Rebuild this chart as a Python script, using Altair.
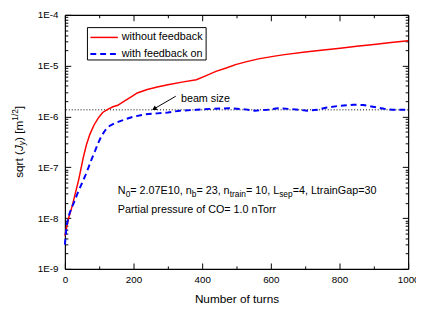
import altair as alt
import pandas as pd

# ---------------- data ----------------
turns_red = [0, 5, 10, 21, 30, 40, 54, 63, 73, 85, 97, 110, 126, 140, 154, 173, 192, 211,
             240, 269, 300, 345, 383, 410, 440, 470, 497, 530, 564, 611, 640, 700, 760,
             802, 850, 900, 950, 1000]
val_red = [4.5e-9, 6.5e-9, 9.5e-9, 1.7e-8, 3.0e-8, 5.6e-8, 1.6e-7, 2.8e-7, 4.5e-7, 6.8e-7,
           9.3e-7, 1.2e-6, 1.4e-6, 1.55e-6, 1.66e-6, 2.0e-6, 2.4e-6, 2.9e-6, 3.4e-6,
           3.8e-6, 4.2e-6, 4.8e-6, 5.3e-6, 6.3e-6, 7.7e-6, 9.0e-6, 1.05e-5, 1.2e-5,
           1.36e-5, 1.54e-5, 1.65e-5, 1.85e-5, 2.05e-5, 2.2e-5, 2.4e-5, 2.6e-5, 2.85e-5,
           3.1e-5]

turns_blue = [0, 5, 11, 18, 26, 38, 50, 60, 69, 78, 88, 97, 107, 118, 130, 145, 159, 180,
              202, 235, 269, 300, 335, 383, 430, 477, 526, 554, 590, 620, 660, 706, 735,
              763, 800, 840, 870, 897, 930, 954, 1000]
val_blue = [3.0e-9, 7e-9, 1.1e-8, 1.5e-8, 2.0e-8, 3.2e-8, 4.9e-8, 7e-8, 1.0e-7, 1.45e-7,
            2.1e-7, 3.0e-7, 4.2e-7, 5.4e-7, 6.5e-7, 7.4e-7, 8.0e-7, 9.0e-7, 1.0e-6,
            1.1e-6, 1.15e-6, 1.2e-6, 1.3e-6, 1.35e-6, 1.42e-6, 1.45e-6, 1.38e-6, 1.3e-6,
            1.35e-6, 1.45e-6, 1.4e-6, 1.3e-6, 1.35e-6, 1.5e-6, 1.62e-6, 1.7e-6, 1.68e-6,
            1.55e-6, 1.42e-6, 1.35e-6, 1.35e-6]

beam_size = [1.35e-6]
series_names = ["without feedback", "with feedback on"]
y_major = [1e-9, 1e-8, 1e-7, 1e-6, 1e-5, 1e-4]
y_minor = [m * 10.0 ** e for e in range(-9, -4) for m in range(2, 10)]
x_major = [0, 200, 400, 600, 800, 1000]
x_minor = [100, 300, 500, 700, 900]

# ---------------- layout ----------------
W, H = 350, 259
FONT = "Liberation Sans"

red_df = pd.DataFrame({"turns": turns_red, "val": val_red})
blue_df = pd.DataFrame({"turns": turns_blue, "val": val_blue})
xs = alt.Scale(domain=[0, 1000], nice=False, zero=False)
ys = alt.Scale(type="log", domain=[1e-9, 1e-4], nice=False)


def axis_layer(xaxis, yaxis):
    return alt.Chart(red_df).mark_line(opacity=0).encode(
        x=alt.X("turns:Q", scale=xs, axis=xaxis),
        y=alt.Y("val:Q", scale=ys, axis=yaxis),
    )


no_lab = dict(labels=False, title=None, grid=False)

# labelled axes (bottom / left)
ax_main = axis_layer(
    alt.Axis(orient="bottom", values=x_major, format="d", title="Number of turns",
             titleFont=FONT, titleFontSize=12, titleFontWeight="normal", titleColor="black",
             titlePadding=9, labelPadding=6, tickSize=0, domain=True,
             labelFlush=False, labelOverlap=False),
    alt.Axis(orient="left", values=y_major, title=None,
             labelExpr="'1E' + round(log(datum.value) / LN10)", tickSize=0,
             labelPadding=7, domain=True, labelFlush=False, labelOverlap=False),
)
# inward ticks on bottom and left
ax_in1 = axis_layer(
    alt.Axis(orient="top", offset=-H, values=x_major, tickSize=6, domain=False, **no_lab),
    alt.Axis(orient="right", offset=-W, values=y_major, tickSize=6, domain=False, **no_lab),
)
ax_in2 = axis_layer(
    alt.Axis(orient="top", offset=-H, values=x_minor, tickSize=3, domain=False, **no_lab),
    alt.Axis(orient="right", offset=-W, values=y_minor, tickSize=3, domain=False, **no_lab),
)
# mirrored top and right frame with inward ticks
ax_in3 = axis_layer(
    alt.Axis(orient="bottom", offset=-H, values=x_major, tickSize=6, domain=True, **no_lab),
    alt.Axis(orient="left", offset=-W, values=y_major, tickSize=6, domain=True, **no_lab),
)
ax_in4 = axis_layer(
    alt.Axis(orient="bottom", offset=-H, values=x_minor, tickSize=3, domain=False, **no_lab),
    alt.Axis(orient="left", offset=-W, values=y_minor, tickSize=3, domain=False, **no_lab),
)

beam = alt.Chart(pd.DataFrame({"v": beam_size})).mark_rule(
    color="black", strokeDash=[1, 2], strokeWidth=1
).encode(y=alt.Y("v:Q", scale=ys, axis=None))

red = alt.Chart(red_df).mark_line(color="#ff0000", strokeWidth=1.5).encode(
    x=alt.X("turns:Q", scale=xs, axis=None), y=alt.Y("val:Q", scale=ys, axis=None))
blue = alt.Chart(blue_df).mark_line(color="#0000ff", strokeWidth=2, strokeDash=[6, 4]).encode(
    x=alt.X("turns:Q", scale=xs, axis=None), y=alt.Y("val:Q", scale=ys, axis=None))

# arrow + "beam size"
arrow_df = pd.DataFrame({"x": [323], "y": [2.5e-6], "x2": [262], "y2": [1.44e-6]})
arrow = alt.Chart(arrow_df).mark_rule(color="black", strokeWidth=1).encode(
    x=alt.X("x:Q", scale=xs, axis=None), y=alt.Y("y:Q", scale=ys, axis=None),
    x2="x2:Q", y2="y2:Q")
head = alt.Chart(arrow_df).mark_point(shape="triangle", filled=True, size=28, angle=240,
                                     color="black", opacity=1).encode(
    x=alt.X("x2:Q", scale=xs, axis=None), y=alt.Y("y2:Q", scale=ys, axis=None))


def txt(s, px, py, size=11, style="normal", angle=0, align="left", baseline="middle"):
    return alt.Chart(pd.DataFrame({"t": [s]})).mark_text(
        align=align, baseline=baseline, font=FONT, fontSize=size, fontStyle=style,
        angle=angle, color="black").encode(x=alt.value(px), y=alt.value(py), text="t:N")


beam_txt = alt.Chart(pd.DataFrame({"t": ["beam size"], "x": [338], "y": [2.2e-6]})).mark_text(
    align="left", baseline="middle", font=FONT, fontSize=11, color="black").encode(
    x=alt.X("x:Q", scale=xs, axis=None), y=alt.Y("y:Q", scale=ys, axis=None), text="t:N")

# legend (manual box)
leg_box = alt.Chart(pd.DataFrame({"a": [0]})).mark_rect(
    fill="white", stroke="black", strokeWidth=1).encode(
    x=alt.value(23), x2=alt.value(144), y=alt.value(13), y2=alt.value(46))
leg_red = alt.Chart(pd.DataFrame({"a": [0]})).mark_rule(color="#ff0000", strokeWidth=1.5).encode(
    x=alt.value(26), x2=alt.value(54), y=alt.value(23))
leg_blue = alt.Chart(pd.DataFrame({"a": [0]})).mark_rule(
    color="#0000ff", strokeWidth=2, strokeDash=[6, 4]).encode(
    x=alt.value(26), x2=alt.value(54), y=alt.value(40))
leg_t1 = txt(series_names[0], 58, 23)
leg_t2 = txt(series_names[1], 58, 40)

# ---- rich text helper: segments (text, size, shift, style) ----
W_ARIAL = {' ': 278, ',': 278, '.': 278, '=': 584, '(': 333, ')': 333, '[': 278, ']': 278,
           '/': 278, '-': 333, 'A': 667, 'C': 722, 'E': 667, 'G': 778, 'J': 500, 'L': 556,
           'N': 722, 'O': 778, 'P': 667, 'T': 611, 'a': 556, 'b': 556, 'c': 500, 'd': 556,
           'e': 556, 'f': 278, 'g': 556, 'h': 556, 'i': 222, 'k': 500, 'l': 222, 'm': 833,
           'n': 556, 'o': 556, 'p': 556, 'q': 556, 'r': 333, 's': 500, 't': 278, 'u': 556,
           'w': 722, 'y': 500, 'z': 500}


def tw(s, size):
    return sum(W_ARIAL.get(c, 556) for c in s) * size / 1000.0


def rich_h(segs, x0, y0):
    layers, x = [], x0
    for s, size, dy, style in segs:
        lead = len(s) - len(s.lstrip(" "))
        layers.append(txt(s.strip(" "), x + tw(" " * lead, size), y0 + dy, size=size,
                          style=style))
        x += tw(s, size)
    return layers


def rich_v(segs, x0, y0):
    # rotated 270 deg: text runs upward; "down" in text frame = +x on screen
    layers, y = [], y0
    for s, size, dx, style in segs:
        lead = len(s) - len(s.lstrip(" "))
        layers.append(txt(s.strip(" "), x0 + dx, y - tw(" " * lead, size), size=size,
                          style=style, angle=270))
        y -= tw(s, size)
    return layers


SUB = 8.5
line1 = [("N", 11, 0, "normal"), ("0", SUB, 3, "normal"), ("= 2.07E10, n", 11, 0, "normal"),
         ("b", SUB, 3, "normal"), ("= 23, n", 11, 0, "normal"), ("train", SUB, 3, "normal"),
         ("= 10, L", 11, 0, "normal"), ("sep", SUB, 3, "normal"),
         ("=4, LtrainGap=30", 11, 0, "normal")]
ann1 = rich_h(line1, 54, 180)
ann2 = [txt("Partial pressure of CO= 1.0 nTorr", 54, 199)]

ytitle = [("sqrt (", 12, 0, "normal"), ("J", 12, 0, "italic"), ("y", SUB, 3, "italic"),
          (")", 12, 0, "normal"), (" [m", 12, 0, "normal"), ("1/2", SUB, -4, "normal"),
          ("]", 12, 0, "normal")]
total = sum(tw(s, z) for s, z, _, _ in ytitle)
ytl = rich_v(ytitle, -47, H / 2 + total / 2)

chart = alt.layer(
    ax_main, ax_in1, ax_in2, ax_in3, ax_in4, beam, red, blue, arrow, head, beam_txt,
    leg_box, leg_red, leg_blue, leg_t1, leg_t2, *ann1, *ann2, *ytl
).resolve_axis(x="independent", y="independent").properties(
    width=W, height=H,
    padding={"left": 58, "top": 4, "right": 8, "bottom": 42},
    autosize=alt.AutoSizeParams(type="none"),
).configure_view(stroke=None).configure_axis(
    labelFont=FONT, labelFontSize=10, labelColor="black", domainColor="black",
    tickColor="black", domainWidth=1.2, tickWidth=1, grid=False
)

chart.save("out.html", embed_options={"renderer": "svg", "actions": False})
